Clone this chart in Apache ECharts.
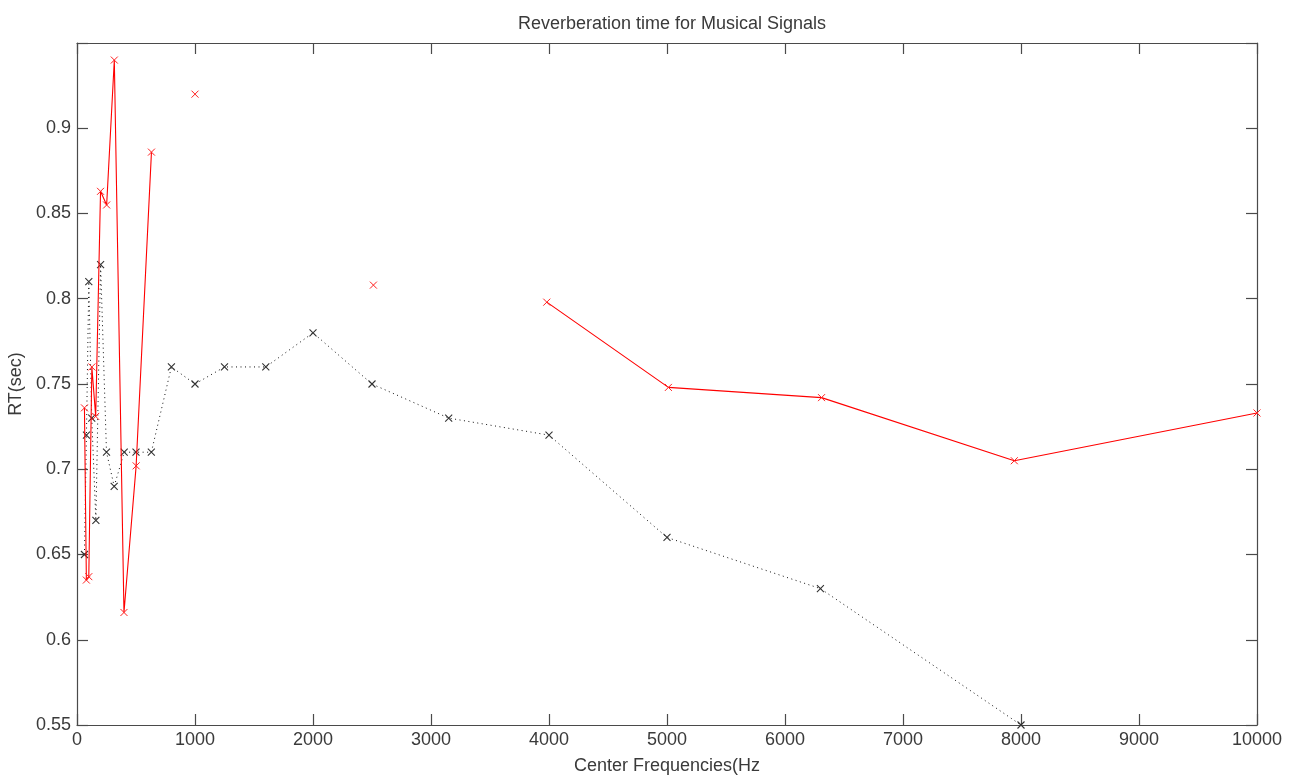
<!DOCTYPE html>
<html>
<head>
<meta charset="utf-8">
<title>Reverberation time for Musical Signals</title>
<script src="https://cdn.jsdelivr.net/npm/echarts@6/dist/echarts.min.js"></script>
<style>
  html, body { margin: 0; padding: 0; background: #fff; }
  #chart { width: 1299px; height: 778px; }
</style>
</head>
<body>
<div id="chart"></div>
<script>
// One-third-octave band centres (nominal and exact)
const bandsNominal = [63, 80, 100, 125, 160, 200, 250, 315, 400, 500, 630, 800,
  1000, 1250, 1600, 2000, 2500, 3150, 4000, 5000, 6300, 8000, 10000];
const bandsExact = [63.1, 79.4, 100, 125.9, 158.5, 199.5, 251.2, 316.2, 398.1, 501.2, 631.0, 794.3,
  1000, 1258.9, 1584.9, 1995.3, 2511.9, 3162.3, 3981.1, 5011.9, 6309.6, 7943.3, 10000];

// Reverberation time per band (s); null = no estimate
const rtBlack = [0.65, 0.72, 0.81, 0.73, 0.67, 0.82, 0.71, 0.69, 0.71, 0.71, 0.71, 0.76,
  0.75, 0.76, 0.76, 0.78, 0.75, 0.73, 0.72, 0.66, 0.63, 0.55, null];
const rtRed = [0.736, 0.635, 0.637, 0.76, 0.731, 0.863, 0.855, 0.94, 0.616, 0.702, 0.886, null,
  0.92, null, null, null, 0.808, null, 0.798, 0.748, 0.742, 0.705, 0.733];

const xTicks = { min: 0, max: 10000, interval: 1000 };
const yTicks = { min: 0.55, max: 0.95, interval: 0.05 };

const pairs = (xs, ys) => xs.map((x, i) => [x, ys[i]]);

const FONT = 'Liberation Sans, Arial, Helvetica, sans-serif';
const AXIS_COLOR = '#4a4a4a';
const TEXT_COLOR = '#3a3a3a';
const crossMark = 'path://M0,0L10,10M10,0L0,10';

const baseAxis = {
  axisLine: { show: true, onZero: false, lineStyle: { color: AXIS_COLOR, width: 1.2 } },
  axisTick: { show: true, inside: true, length: 11, lineStyle: { color: AXIS_COLOR, width: 1.2 } },
  splitLine: { show: false }
};

const chart = echarts.init(document.getElementById('chart'), null, { renderer: 'canvas' });

chart.setOption({
  backgroundColor: '#ffffff',
  animation: false,
  title: {
    text: 'Reverberation time for Musical Signals',
    left: 667, top: 10, textAlign: 'center',
    textStyle: { fontFamily: FONT, fontSize: 18, fontWeight: 'normal', color: TEXT_COLOR }
  },
  grid: { left: 77, right: 42, top: 43, bottom: 53, containLabel: false, outerBoundsMode: 'none' },
  xAxis: [
    Object.assign({}, baseAxis, {
      type: 'value', position: 'bottom',
      min: xTicks.min, max: xTicks.max, interval: xTicks.interval,
      name: 'Center Frequencies(Hz', nameLocation: 'middle', nameGap: 32,
      nameTextStyle: { fontFamily: FONT, fontSize: 18, color: TEXT_COLOR },
      axisLabel: {
        fontFamily: FONT, fontSize: 18, color: TEXT_COLOR, margin: 6,
        formatter: v => String(Math.round(v))
      }
    }),
    Object.assign({}, baseAxis, {
      type: 'value', position: 'top',
      min: xTicks.min, max: xTicks.max, interval: xTicks.interval,
      axisLabel: { show: false }
    })
  ],
  yAxis: [
    Object.assign({}, baseAxis, {
      type: 'value', position: 'left',
      min: yTicks.min, max: yTicks.max, interval: yTicks.interval,
      name: 'RT(sec)', nameLocation: 'middle', nameGap: 50, nameRotate: 90,
      nameTextStyle: { fontFamily: FONT, fontSize: 18, color: TEXT_COLOR },
      axisLabel: {
        fontFamily: FONT, fontSize: 18, color: TEXT_COLOR, margin: 6,
        formatter: v => (v > 0.94 ? '' : String(parseFloat(v.toFixed(2))))
      }
    }),
    Object.assign({}, baseAxis, {
      type: 'value', position: 'right',
      min: yTicks.min, max: yTicks.max, interval: yTicks.interval,
      axisLabel: { show: false }
    })
  ],
  series: [
    {
      name: 'black', type: 'line',
      data: pairs(bandsNominal, rtBlack),
      connectNulls: false,
      symbol: crossMark, symbolSize: 7, showSymbol: true, showAllSymbol: true,
      lineStyle: { color: '#111', width: 1, type: [1, 3.5] },
      itemStyle: { color: '#333', borderColor: '#333', borderWidth: 1.1 },
      z: 2
    },
    {
      name: 'red', type: 'line',
      data: pairs(bandsExact, rtRed),
      connectNulls: false,
      symbol: crossMark, symbolSize: 7, showSymbol: true, showAllSymbol: true,
      lineStyle: { color: '#ff0000', width: 1.1 },
      itemStyle: { color: '#ff2020', borderColor: '#ff2020', borderWidth: 1 },
      z: 3
    }
  ]
});
</script>
</body>
</html>
